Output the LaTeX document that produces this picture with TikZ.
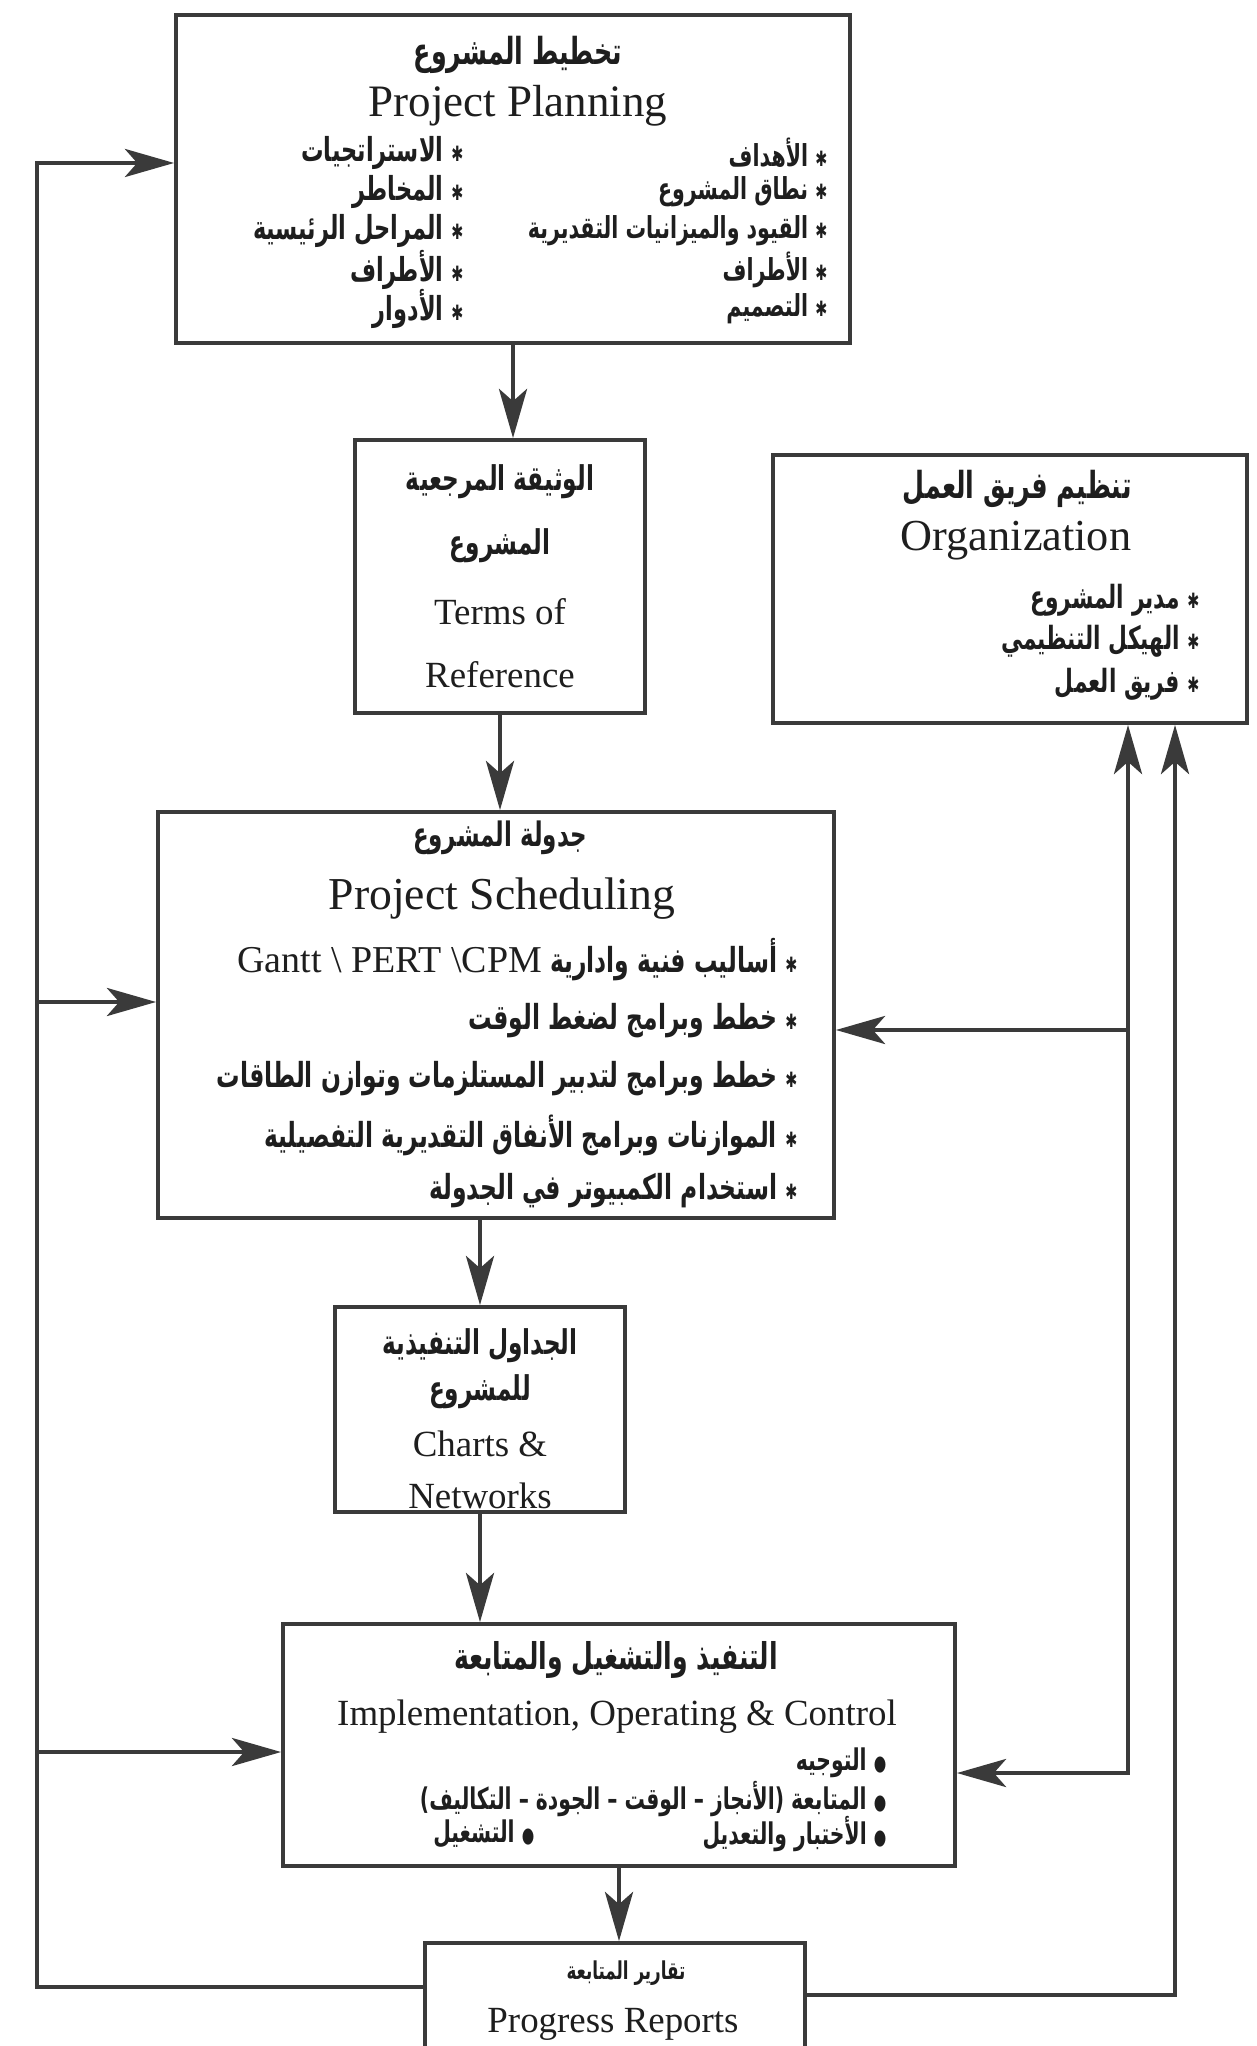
\documentclass[tikz,border=0pt]{standalone}
\usepackage{fontspec}
\setmainfont{Liberation Serif}
\newfontfamily\arabicfont[Script=Arabic, FakeStretch=0.68]{DejaVu Sans}
\TeXXeTstate=1
\usetikzlibrary{arrows.meta}
\definecolor{lin}{HTML}{3A3A3A}
\definecolor{ink}{HTML}{1E1E1E}
\newcommand{\artxt}[1]{{\arabicfont\bfseries\beginR #1\endR}}
\newcommand{\blt}{{\fontsize{6}{6}\selectfont ✱}}
\newcommand{\rdot}{{\fontsize{6}{6}\selectfont ●}}

\begin{document}
\begin{tikzpicture}[x=0.1mm, y=-0.1mm, text=ink,
  box/.style={draw=lin, line width=1.1pt, inner sep=0pt},
  en/.style={inner sep=0pt, font=\fontsize{10.5}{12}\selectfont},
  ar/.style={inner sep=0pt, font=\fontsize{9}{11}\selectfont},
  conn/.style={draw=lin, line width=1.1pt},
  arr/.style={conn, -{Stealth[length=14pt, width=8pt, inset=3.5pt]}},
  arrs/.style={conn, {Stealth[length=14pt, width=8pt, inset=3.5pt]}-{Stealth[length=14pt, width=8pt, inset=3.5pt]}}]
\useasboundingbox (0,0) rectangle (1256,2046);
\clip (0,0) rectangle (1256,2046);

% boxes
\node[box, minimum width=67.4mm, minimum height=32.8mm] (plan) at (513,179) {};
\node[box, minimum width=29mm, minimum height=27.3mm] (tor) at (500,576.5) {};
\node[box, minimum width=47.4mm, minimum height=26.8mm] (org) at (1010,589) {};
\node[box, minimum width=67.6mm, minimum height=40.6mm] (sched) at (496,1015) {};
\node[box, minimum width=29mm, minimum height=20.5mm] (charts) at (480,1409.5) {};
\node[box, minimum width=67.2mm, minimum height=24.2mm] (impl) at (619,1745) {};
\node[box, minimum width=38mm, minimum height=11.3mm] (rep) at (615,1999.5) {};

% project planning
\node[ar, font=\fontsize{10.6}{13}\selectfont] (plan-ar) at (518,55) {\artxt{تخطيط المشروع}};
\node[en, font=\fontsize{12.8}{15}\selectfont] (plan-en) at (518,106) {Project Planning};
\foreach \t [count=\i] in {الأهداف, نطاق المشروع, القيود والميزانيات التقديرية, الأطراف, التصميم}
  \node[ar, anchor=east, font=\fontsize{8.6}{10}\selectfont] (plan-r\i) at (828,114+39*\i) {\artxt{\blt\ \t}};
\foreach \t [count=\i] in {الاستراتجيات, المخاطر, المراحل الرئيسية, الأطراف, الأدوار}
  \node[ar, anchor=east, font=\fontsize{9.4}{11}\selectfont] (plan-l\i) at (464,114+39*\i) {\artxt{\blt\ \t}};

% terms of reference
\node[ar, font=\fontsize{9.7}{12}\selectfont] (tor-1) at (500,482) {\artxt{الوثيقة المرجعية}};
\node[ar, font=\fontsize{9.7}{12}\selectfont] (tor-2) at (500,546) {\artxt{المشروع}};
\node[en] (tor-3) at (500,612) {Terms of};
\node[en] (tor-4) at (500,675) {Reference};

% organization
\node[ar, font=\fontsize{10.6}{13}\selectfont] (org-ar) at (1017,489) {\artxt{تنظيم فريق العمل}};
\node[en, font=\fontsize{12.6}{14}\selectfont] (org-en) at (1016,541) {Organization};
\foreach \y/\t [count=\i] in {600/مدير المشروع, 641/الهيكل التنظيمي, 684/فريق العمل}
  \node[ar, anchor=east, font=\fontsize{9.1}{11}\selectfont] (org-\i) at (1200,\y) {\artxt{\blt\ \t}};

% project scheduling
\node[ar, font=\fontsize{9.6}{12}\selectfont] (sched-ar) at (500,838) {\artxt{جدولة المشروع}};
\node[en, font=\fontsize{13}{15}\selectfont] (sched-en) at (502,899) {Project Scheduling};
\node[ar, anchor=east, font=\fontsize{9.8}{12}\selectfont] (sched-1) at (798,960)
  {\artxt{\blt\ أساليب فنية وادارية \beginL{\rmfamily\mdseries\fontsize{10.8}{12}\selectfont Gantt \textbackslash{} PERT \textbackslash CPM}\endL}};
\foreach \y/\t [count=\i from 2] in {1021/خطط وبرامج لضغط الوقت, 1079/خطط وبرامج لتدبير المستلزمات وتوازن الطاقات, 1135/الموازنات وبرامج الأنفاق التقديرية التفصيلية, 1191/استخدام الكمبيوتر في الجدولة}
  \node[ar, anchor=east, font=\fontsize{9.8}{12}\selectfont] (sched-\i) at (798,\y) {\artxt{\blt\ \t}};

% charts and networks
\node[ar, font=\fontsize{9.7}{12}\selectfont] (charts-1) at (480,1346) {\artxt{الجداول التنفيذية}};
\node[ar, font=\fontsize{9.7}{12}\selectfont] (charts-2) at (480,1392) {\artxt{للمشروع}};
\node[en] (charts-3) at (480,1444) {Charts \&};
\node[en] (charts-4) at (480,1496) {Networks};

% implementation
\node[ar, font=\fontsize{10.5}{13}\selectfont] (impl-ar) at (616,1660) {\artxt{التنفيذ والتشغيل والمتابعة}};
\node[en] (impl-en) at (617,1717) {Implementation, Operating \& Control};
\node[ar, anchor=east, font=\fontsize{8.5}{10}\selectfont] (impl-1) at (887,1763) {\artxt{\rdot\ التوجيه}};
\node[ar, anchor=east, font=\fontsize{8.5}{10}\selectfont] (impl-2) at (887,1799) {\artxt{\rdot\ المتابعة (الأنجاز – الوقت – الجودة – التكاليف)}};
\node[ar, anchor=east, font=\fontsize{8.5}{10}\selectfont] (impl-3) at (887,1834) {\artxt{\rdot\ الأختبار والتعديل}};
\node[ar, anchor=east, font=\fontsize{8.5}{10}\selectfont] (impl-4) at (535,1834) {\artxt{\rdot\ التشغيل}};

% progress reports
\node[ar, font=\fontsize{7}{8}\selectfont] (rep-ar) at (626,1973) {\artxt{تقارير المتابعة}};
\node[en] (rep-en) at (613,2024) {Progress Reports};

% main flow
\draw[arr] (plan.south) -- (plan.south |- tor.north);
\draw[arr] (tor.south) -- (tor.south |- sched.north);
\draw[arr] (charts.north |- sched.south) -- (charts.north);
\draw[arr] (charts.south) -- (charts.south |- impl.north);
\draw[arr] (impl.south) -- (impl.south |- rep.north);

% feedback, left
\coordinate (lb) at (37,1987);
\coordinate (lt) at (37,163);
\coordinate (ls) at (37,1002);
\coordinate (li) at (37,1752);
\draw[arr] (rep.west |- lb) -- (lb) -- (lt) -- (lt -| plan.west);
\draw[arr] (ls) -- (ls -| sched.west);
\draw[arr] (li) -- (li -| impl.west);

% feedback, right
\coordinate (ri) at (1128,1773);
\coordinate (rs) at (1128,1030);
\coordinate (ro) at (1175,1995);
\draw[arrs] (ri -| impl.east) -- (ri) -- (ri |- org.south);
\draw[arr] (rs) -- (rs -| sched.east);
\draw[arr] (rep.east |- ro) -- (ro) -- (ro |- org.south);
\end{tikzpicture}
\end{document}
